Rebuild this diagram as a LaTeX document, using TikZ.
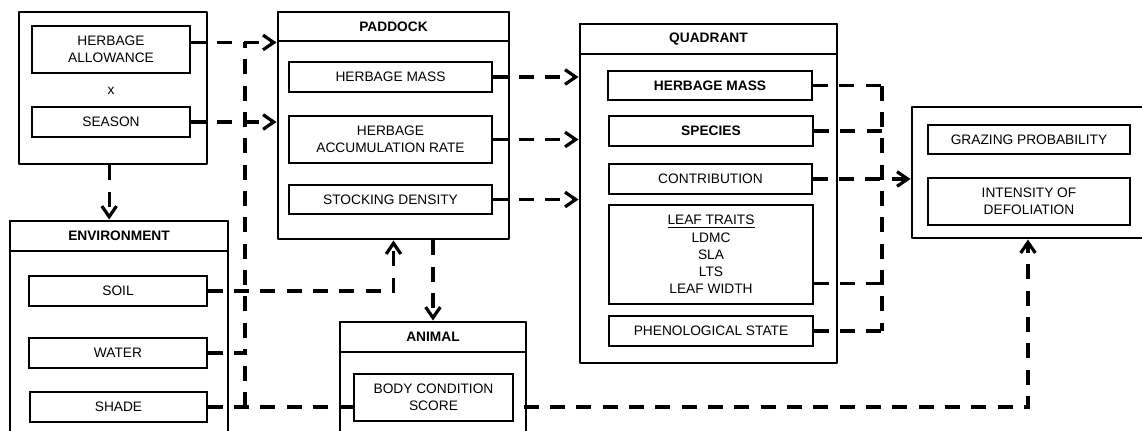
\documentclass[tikz,border=0pt]{standalone}
\usepackage{fontspec}
\setmainfont{Liberation Sans}
\usetikzlibrary{arrows.meta,calc}
\pgfdeclarelayer{bg}
\pgfsetlayers{bg,main}

\newcommand\labelfont{\fontsize{10.3}{12.9}\selectfont}
\tikzset{
  wh/.style 2 args={minimum width=#1*0.75pt, minimum height=#2*0.75pt},
  frame/.style={draw, line width=2.2pt, inner sep=0pt, line join=round},
  headbox/.style={frame, font=\labelfont\bfseries},
  strongbox/.style={draw, line width=1.7pt, inner sep=0pt, align=center},
  itembox/.style={draw, line width=0.9pt, inner sep=0pt, align=center},
  link/.style={line width=2.4pt, dash pattern=on 11.25pt off 8.5pt},
  flow/.style={link, -{Straight Barb[length=8pt,width=11pt]}},
}

\begin{document}
\begin{tikzpicture}[x=0.75pt,y=-0.75pt, font=\labelfont]
\useasboundingbox (0,0) rectangle (1142,430);
\clip (0,0) rectangle (1142,430);

% management inputs
\node[frame, wh={188}{152}] (in) at (113,88) {};
\node[strongbox, wh={158}{47}] (ha) at (111,49.5) {HERBAGE\\ALLOWANCE};
\node (times) at (111,91) {x};
\node[strongbox, wh={158}{30}] (season) at (111,122) {SEASON};

% environment
\node[frame, wh={218}{229}] (env) at (119,335.5) {};
\node[headbox, wh={218}{30}] (envh) at (119,236) {ENVIRONMENT};
\node[itembox, wh={178}{30}] (soil) at (118,291) {SOIL};
\node[itembox, wh={178}{30}] (water) at (118,353) {WATER};
\node[itembox, wh={177}{30}] (shade) at (118.5,407) {SHADE};

% paddock
\node[frame, wh={231}{227}] (pd) at (393.5,125.5) {};
\node[headbox, wh={231}{29}] (pdh) at (393.5,26.5) {PADDOCK};
\node[itembox, wh={203}{30}] (pm) at (390.5,77) {HERBAGE MASS};
\node[itembox, wh={203}{47}] (par) at (390.5,139.5) {HERBAGE\\ACCUMULATION RATE};
\node[itembox, wh={203}{29}] (sd) at (390.5,199.5) {STOCKING DENSITY};

% animal
\node[frame, wh={186}{128}] (an) at (433,386) {};
\node[headbox, wh={186}{30}] (anh) at (433,337) {ANIMAL};
\node[itembox, fill=white, wh={159}{47}] (bcs) at (433.5,397.5) {BODY CONDITION\\SCORE};

% quadrant
\node[frame, wh={257}{339}] (qd) at (708.5,193.5) {};
\node[headbox, wh={257}{30}] (qdh) at (708.5,39) {QUADRANT};
\node[strongbox, font=\labelfont\bfseries, wh={204}{29}] (qhm) at (710,85.5) {HERBAGE MASS};
\node[strongbox, font=\labelfont\bfseries, wh={204}{30}] (qsp) at (711,131) {SPECIES};
\node[itembox, wh={203}{30}] (qct) at (710.5,179) {CONTRIBUTION};
\node[itembox, wh={204}{99}] (qlt) at (711,254.5) {\underline{LEAF TRAITS}\\LDMC\\SLA\\LTS\\LEAF WIDTH};
\node[itembox, wh={204}{30}] (qps) at (711,331) {PHENOLOGICAL STATE};

% grazing outcome
\node[frame, wh={232}{131}] (gz) at (1028,172.5) {};
\node[itembox, wh={202}{29}] (gp) at (1029,139.5) {GRAZING PROBABILITY};
\node[itembox, wh={202}{47}] (idf) at (1029,201.5) {INTENSITY OF\\DEFOLIATION};

\begin{pgfonlayer}{bg}
  % into the paddock
  \draw[flow] (ha.east |- pdh.south) -- (pdh.south west);
  \draw[flow] (season.east) -- (season.east -| pd.west);
  % management to environment
  \coordinate (drop) at ($(in.south west)!0.48!(in.south east)$);
  \draw[flow] (drop) -- (drop |- env.north);
  % soil to paddock, paddock to animal
  \draw[flow] (soil.east) -| (pd.south);
  \draw[flow] (an.north |- pd.south) -- (an.north);
  % left collector
  \coordinate (lbus) at (245,42);
  \draw[link] (water.east) -| (lbus);
  \draw[link] (lbus |- shade.east) -- (lbus |- water.east);
  % shade to grazing
  \draw[flow] (shade.east) -| (gz.south);
  % paddock to quadrant
  \foreach \n in {pm,par,sd}
    \draw[flow] (\n.east) -- (\n.east -| qd.west);
  % quadrant to grazing
  \coordinate (rbus) at (882,85.5);
  \coordinate (ltout) at ($(qlt.south east)!0.21!(qlt.north east)$);
  \draw[flow] (qct.east) -- (qct.east -| gz.west);
  \draw[link] (qhm.east) -- (rbus);
  \draw[link] (qsp.east) -- (qsp.east -| rbus);
  \draw[link] (ltout) -- (ltout -| rbus);
  \draw[link] (qps.east) -- (qps.east -| rbus);
  \draw[link] (rbus) -- (rbus |- qps.east);
\end{pgfonlayer}
\end{tikzpicture}
\end{document}
